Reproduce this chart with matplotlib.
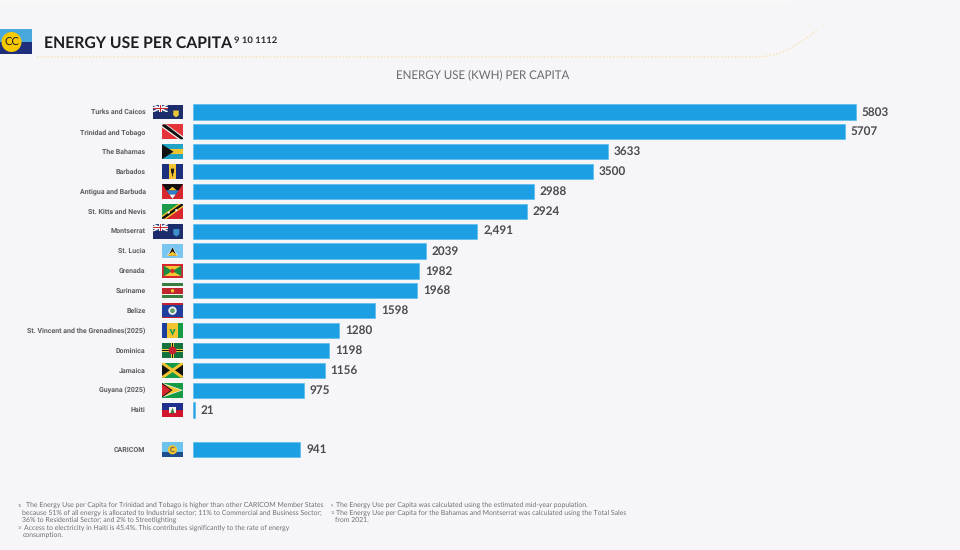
import numpy as np
import matplotlib
matplotlib.use("Agg")
import matplotlib.pyplot as plt
from matplotlib.patches import Rectangle, Polygon, Circle

countries = ["Turks and Caicos", "Trinidad and Tobago", "The Bahamas", "Barbados",
             "Antigua and Barbuda", "St. Kitts and Nevis", "Montserrat", "St. Lucia",
             "Grenada", "Suriname", "Belize", "St. Vincent and the Grenadines(2025)",
             "Dominica", "Jamaica", "Guyana (2025)", "Haiti", "CARICOM"]
values = [5803, 5707, 3633, 3500, 2988, 2924, 2491, 2039, 1982, 1968, 1598, 1280,
          1198, 1156, 975, 21, 941]
value_labels = ["5803", "5707", "3633", "3500", "2988", "2924", "2,491", "2039", "1982",
                "1968", "1598", "1280", "1198", "1156", "975", "21", "941"]
rows = [0, 1, 2, 3, 4, 5, 6, 7, 8, 9, 10, 11, 12, 13, 14, 15, 17]
flag_codes = ["tc", "tt", "bs", "bb", "ag", "kn", "ms", "lc", "gd", "sr", "bz", "vc",
              "dm", "jm", "gy", "ht", "cc"]

plt.rcParams["text.hinting"] = "no_hinting"
plt.rcParams["text.hinting_factor"] = 8

BG = "#f6f5f8"
BAR = "#1c9fe3"
W, H = 960, 550
fig = plt.figure(figsize=(9.6, 5.5), dpi=100, facecolor=BG)

# overlay in pixel coordinates for page furniture
pg = fig.add_axes([0, 0, 1, 1], zorder=1)
pg.set_xlim(0, W); pg.set_ylim(H, 0); pg.axis("off")

# main chart axes, scale: 0.1144 px per unit, rows about 19.87 px apart, first at y=112
X0, PXU, Y0, DY = 192.5, 0.11430, 112.0, 19.87
ax = fig.add_axes([X0 / W, 0, 1 - X0 / W, 1], zorder=2)
ax.set_xlim(0, (W - X0) / PXU)
ax.set_ylim((H - Y0) / DY, -Y0 / DY)
ax.axis("off"); ax.patch.set_alpha(0)
ax.barh(rows, values, height=15.2 / DY, color=BAR, edgecolor="#5cbcec", linewidth=0.5)

for r, v, t in zip(rows, values, value_labels):
    ax.annotate(t, (v, r), xytext=(4.3, 0), textcoords="offset points", va="center", ha="left",
                fontsize=8.5, fontweight="bold", family="Lato", color="#4a4a4f")
for r, c in zip(rows, countries):
    pg.text(145.5, Y0 + r * DY + 0.4, c, ha="right", va="center", fontsize=5.0, fontweight="bold",
            family="Roboto", color="#5c5c62")

# --- flags ---
def flag(code, cy):
    x0, x1 = 162.0, 183.0
    if code in ("tc", "ms"):
        x0 = 152.5
    y0, y1 = cy - 7.4, cy + 7.4
    w, h = x1 - x0, y1 - y0
    def R(a, b, c, d, col, z=3):
        pg.add_patch(Rectangle((x0 + a * w, y0 + b * h), (c - a) * w, (d - b) * h, fc=col, ec="none", zorder=z))
    def P(pts, col, z=4):
        pg.add_patch(Polygon([(x0 + p * w, y0 + q * h) for p, q in pts], closed=True, fc=col, ec="none", zorder=z))
    def C(p, q, r, col, z=5):
        pg.add_patch(Circle((x0 + p * w, y0 + q * h), r, fc=col, ec="none", zorder=z))
    if code in ("tc", "ms"):
        R(0, 0, 1, 1, "#1d2d6b")
        R(0, 0, .5, .5, "#2a3f80", 4)
        P([(0, 0), (.06, 0), (.5, .44), (.5, .5), (.44, .5), (0, .06)], "#f2f2f2", 5)
        P([(.44, 0), (.5, 0), (.5, .06), (.06, .5), (0, .5), (0, .44)], "#f2f2f2", 5)
        R(.2, 0, .3, .5, "#f2f2f2", 5); R(0, .18, .5, .32, "#f2f2f2", 5)
        R(.23, 0, .27, .5, "#cf2b36", 6); R(0, .21, .5, .29, "#cf2b36", 6)
        if code == "tc":
            P([(.68, .4), (.86, .4), (.86, .72), (.77, .86), (.68, .72)], "#e9c53a", 5)
        else:
            P([(.68, .35), (.88, .35), (.88, .72), (.78, .86), (.68, .72)], "#3d8fcb", 5)
    elif code == "tt":
        R(0, 0, 1, 1, "#e5333c")
        P([(0, 0), (.22, 0), (1, .8), (1, 1), (.78, 1), (0, .2)], "#f5f5f5")
        P([(.05, 0), (.17, 0), (1, .9), (1, 1), (.88, 1), (0, .1)], "#111111", 5)
    elif code == "bs":
        R(0, 0, 1, 1, "#f2c530")
        R(0, 0, 1, .33, "#21a3c4", 4); R(0, .67, 1, 1, "#21a3c4", 4)
        P([(0, 0), (.55, .5), (0, 1)], "#111111", 5)
    elif code == "bb":
        R(0, 0, 1, 1, "#f5c431")
        R(0, 0, .33, 1, "#1c2f7c", 4); R(.67, 0, 1, 1, "#1c2f7c", 4)
        P([(.42, .3), (.58, .3), (.56, .62), (.52, .62), (.52, .82), (.48, .82), (.48, .62), (.44, .62)], "#1a1a1a", 5)
    elif code == "ag":
        R(0, 0, 1, 1, "#d8262f")
        P([(0, 0), (1, 0), (.5, 1)], "#111111", 4)
        P([(.2, .42), (.8, .42), (.65, .7), (.35, .7)], "#2f7fd0", 5)
        P([(.35, .7), (.65, .7), (.5, 1)], "#f5f5f5", 5)
        P([(.3, .42), (.7, .42), (.5, .18)], "#f5c431", 6)
    elif code == "kn":
        R(0, 0, 1, 1, "#1a9a4a")
        P([(1, 0), (1, 1), (0, 1)], "#d8262f", 4)
        P([(0, .78), (.78, 0), (1, 0), (1, .22), (.22, 1), (0, 1)], "#f5c431", 5)
        P([(0, .9), (.9, 0), (1, 0), (1, .1), (.1, 1), (0, 1)], "#111111", 6)
        C(.32, .58, 1.1, "#f5f5f5", 7); C(.68, .42, 1.1, "#f5f5f5", 7)
    elif code == "lc":
        R(0, 0, 1, 1, "#7ac6f1")
        P([(.5, .2), (.76, .82), (.24, .82)], "#f5f5f5", 4)
        P([(.5, .25), (.7, .82), (.3, .82)], "#111111", 5)
        P([(.5, .52), (.76, .82), (.24, .82)], "#f5c431", 6)
    elif code == "gd":
        R(0, 0, 1, 1, "#d8262f")
        R(.08, .14, .92, .86, "#f5c431", 4)
        P([(.08, .14), (.5, .5), (.08, .86)], "#1c8c44", 5)
        P([(.92, .14), (.5, .5), (.92, .86)], "#1c8c44", 5)
        C(.5, .5, 2.1, "#d8262f", 6)
    elif code == "sr":
        R(0, 0, 1, 1, "#f5f5f5")
        R(0, 0, 1, .2, "#377e3f", 4); R(0, .8, 1, 1, "#377e3f", 4)
        R(0, .28, 1, .72, "#c0272d", 4)
        C(.5, .5, 1.7, "#f5c431", 5)
    elif code == "bz":
        R(0, 0, 1, 1, "#1f3f9c")
        R(0, 0, 1, .1, "#c8202f", 4); R(0, .9, 1, 1, "#c8202f", 4)
        C(.5, .5, 4.2, "#f0f0f0", 5); C(.5, .5, 2.4, "#5f9f6f", 6)
    elif code == "vc":
        R(0, 0, .25, 1, "#1f3f9c"); R(.25, 0, .75, 1, "#f5c431"); R(.75, 0, 1, 1, "#159a46")
        P([(.35, .4), (.45, .4), (.5, .65), (.55, .4), (.65, .4), (.5, .85)], "#159a46", 5)
    elif code == "dm":
        R(0, 0, 1, 1, "#14723e")
        R(.42, 0, .58, 1, "#e8d040", 4); R(0, .42, 1, .58, "#e8d040", 4)
        R(.46, 0, .54, 1, "#111111", 5); R(0, .46, 1, .54, "#111111", 5)
        C(.5, .5, 3.9, "#c8202f", 6)
    elif code == "jm":
        R(0, 0, 1, 1, "#159a46")
        P([(0, 0), (.5, .5), (0, 1)], "#111111", 4); P([(1, 0), (.5, .5), (1, 1)], "#111111", 4)
        P([(0, 0), (.12, 0), (1, .88), (1, 1), (.88, 1), (0, .12)], "#f5c431", 5)
        P([(.88, 0), (1, 0), (1, .12), (.12, 1), (0, 1), (0, .88)], "#f5c431", 5)
    elif code == "gy":
        R(0, 0, 1, 1, "#159a46")
        P([(0, 0), (1, .5), (0, 1)], "#f5f5f5", 4)
        P([(0, .06), (.92, .5), (0, .94)], "#f5c431", 5)
        P([(0, 0), (.5, .5), (0, 1)], "#111111", 6)
        P([(0, .08), (.42, .5), (0, .92)], "#d8262f", 7)
    elif code == "ht":
        R(0, 0, 1, .5, "#1f2f8c"); R(0, .5, 1, 1, "#d4142f")
        R(.34, .3, .66, .72, "#f5f5f5", 5)
        P([(.4, .72), (.5, .34), (.6, .72)], "#3a7d44", 6)
    elif code == "cc":
        R(0, 0, 1, .62, "#6cc3ec"); R(0, .62, 1, 1, "#1d4c8f", 4)
        C(.5, .5, 4.6, "#f2c530", 5)
        pg.text(x0 + .5 * w, cy, "C", fontsize=5, ha="center", va="center", color="#1d2d6b", zorder=6)

for r, code in zip(rows, flag_codes):
    flag(code, Y0 + r * DY)

# --- header ---
pg.add_patch(Rectangle((0, 0), 790, 3, fc="#f9f9fa", ec="none", zorder=0))
pg.add_patch(Rectangle((0, 29), 32, 12.5, fc="#49a8dc", ec="none"))
pg.add_patch(Rectangle((0, 41.5), 32, 12.5, fc="#1f2f7c", ec="none"))
pg.add_patch(Circle((11.5, 42), 10, fc="#f5c800", ec="none", zorder=3))
pg.text(11.5, 42.5, "CC", fontsize=8, ha="center", va="center", color="#222222", zorder=4, family="Lato")
pg.text(44, 43.5, "ENERGY USE PER CAPITA", fontsize=11.3, fontweight="bold", family="Lato",
        ha="left", va="center", color="#1e1e22")
pg.text(234, 40, "9 10 1112", fontsize=6.8, fontweight="bold", family="Lato", ha="left", va="center",
        color="#2a2a2e")
pg.text(482.5, 76, "ENERGY USE (KWH) PER CAPITA", fontsize=8.3, family="Lato", ha="center",
        va="center", color="#6a6a70")

# dotted rule, straight then curling upward
t = np.linspace(0, 1, 40)
cx = (1 - t)**3 * 755 + 3 * (1 - t)**2 * t * 780 + 3 * (1 - t) * t**2 * 795 + t**3 * 818
cy = (1 - t)**3 * 57 + 3 * (1 - t)**2 * t * 57 + 3 * (1 - t) * t**2 * 46 + t**3 * 30
pg.plot(np.r_[37, cx], np.r_[57, cy], ls=(0, (1, 1.5)), lw=1.0, color="#f8e3ac")

# --- footnotes ---
FN = dict(fontsize=4.95, family="Lato", color="#6f6f75", ha="left", va="center")
for x, y, s in [(26, 505, "The Energy Use per Capita for Trinidad and Tobago is higher than other CARICOM Member States"),
                (22.5, 512.5, "because 51% of all energy is allocated to Industrial sector; 11% to Commercial and Business Sector;"),
                (22.5, 519.8, "36% to Residential Sector; and 2% to Streetlighting"),
                (23.5, 527.3, "Access to electricity in Haiti is 45.4%. This contributes significantly to the rate of energy"),
                (22.5, 534.5, "consumption."),
                (336.5, 505, "The Energy Use per Capita was calculated using the estimated mid-year population."),
                (336.5, 512.5, "The Energy Use per Capita for the Bahamas and Montserrat was calculated using the Total Sales"),
                (335, 520, "from 2021.")]:
    pg.text(x, y, s, **FN)
for x, y, s in [(18, 505.5, "11"), (18, 527.5, "12"), (331, 505.5, "9"), (331, 512.5, "10")]:
    pg.text(x, y, s, fontsize=2.6, family="Lato", color="#6f6f75", ha="left", va="center")

fig.savefig("out.png", dpi=100, facecolor=BG)
